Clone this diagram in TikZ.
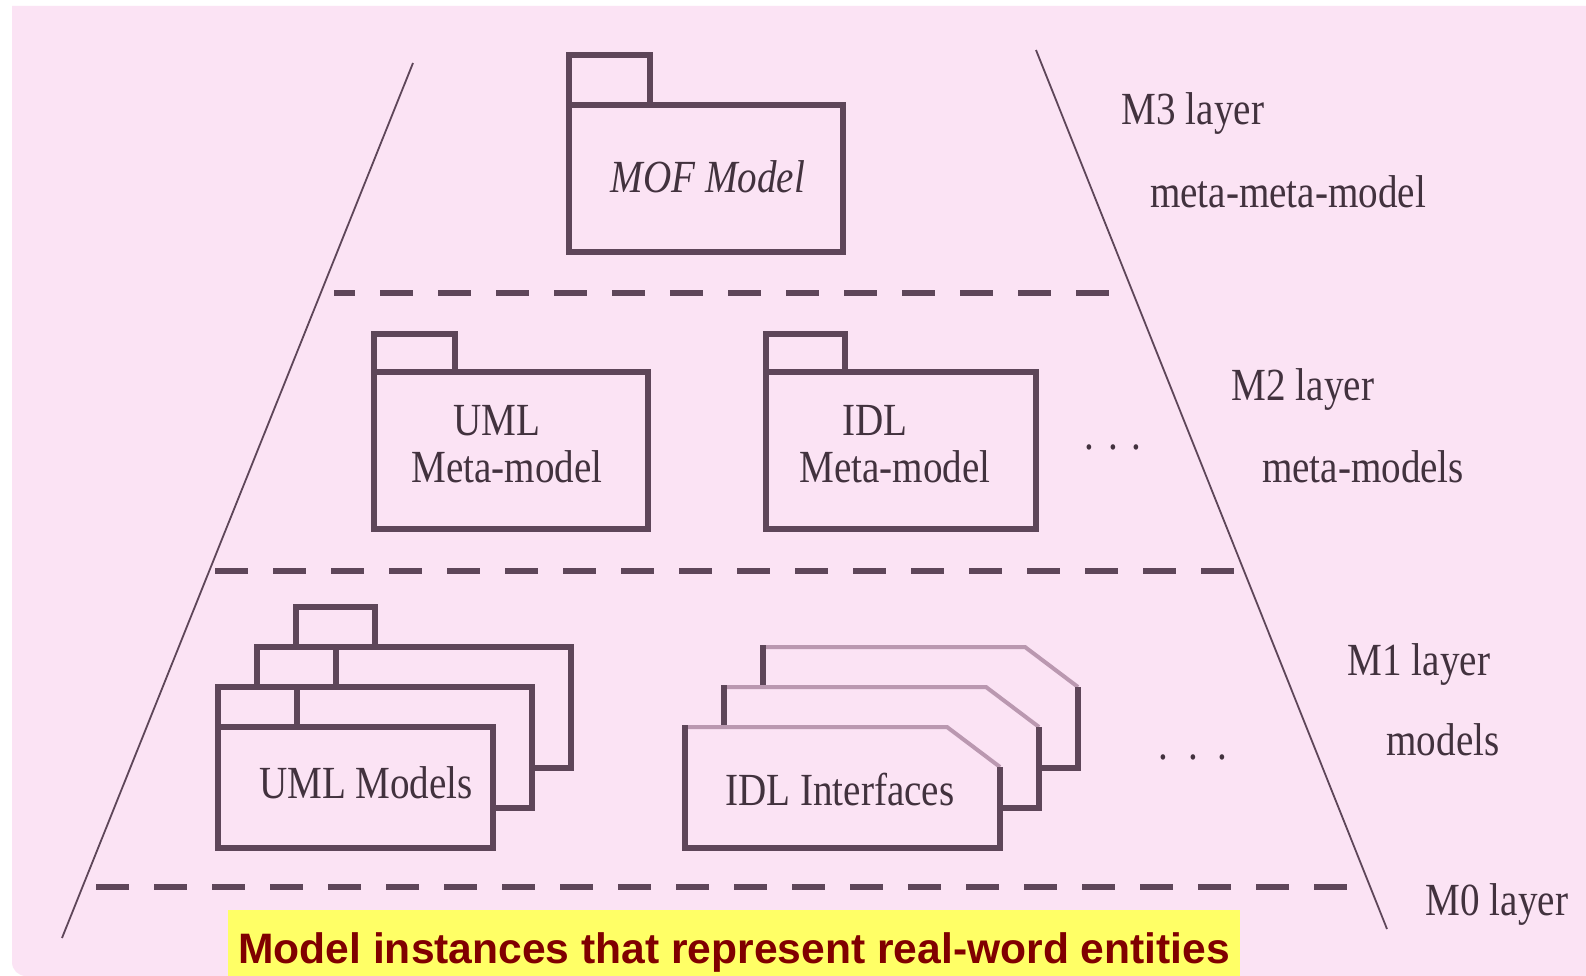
\documentclass[tikz,border=0pt]{standalone}
\usepackage{fontspec}
\newfontfamily\lblfont[FakeStretch=0.85]{Liberation Serif}
\newfontfamily\capfont{Liberation Sans}

\definecolor{bgpink}{RGB}{251,227,244}
\definecolor{plum}{RGB}{94,70,89}
\definecolor{plumlight}{RGB}{186,152,176}
\definecolor{ink}{RGB}{66,50,62}
\definecolor{capyellow}{RGB}{255,255,102}
\definecolor{capred}{RGB}{128,0,0}

\tikzset{
  pkg/.style={draw=plum, line width=5.5pt, fill=bgpink, line join=miter},
  pkgtop/.style={draw=plumlight, line width=4pt},
  layerline/.style={draw=plum, line width=1.8pt},
  separator/.style={draw=plum, line width=5.5pt, dash pattern=on 33pt off 25pt},
  lbl/.style={font=\lblfont\fontsize{46}{49}\selectfont, text=ink, inner sep=0pt, anchor=base},
  caption/.style={fill=capyellow, text=capred, inner sep=0pt,
    font=\capfont\bfseries\fontsize{42.6}{46}\selectfont,
    minimum width=1012pt, text height=53pt, text depth=13pt},
}

% UML package: left, top of body, body width, body height, tab width, tab height
\newcommand{\umlpackage}[6]{%
  \path[pkg] ({#1},{#2-#6}) rectangle ({#1+#5},{#2});
  \path[pkg] ({#1},{#2}) rectangle ({#1+#3},{#2+#4});
}
% Interface sheet with a cut top-right corner: left, top
\newcommand{\idlsheet}[2]{%
  \fill[bgpink] ({#1},{#2}) -- ({#1+262},{#2}) -- ({#1+315},{#2+40})
    -- ({#1+315},{#2+121}) -- ({#1},{#2+121}) -- cycle;
  \draw[pkgtop] ({#1},{#2}) -- ({#1+262},{#2}) -- ({#1+315},{#2+40});
  \draw[pkg, fill=none] ({#1+315},{#2+40}) -- ({#1+315},{#2+121})
    -- ({#1},{#2+121}) -- ({#1},{#2-2.5});
}

\begin{document}
\begin{tikzpicture}[x=1pt, y=-1pt]
  \useasboundingbox (0,0) rectangle (1586,976);
  \fill[white] (0,0) rectangle (1586,976);
  \fill[bgpink] (12,6) -- (1586,6) -- (1586,976) [rounded corners=14pt] -- (12,976)
    [sharp corners] -- cycle;

  % pyramid sides
  \draw[layerline] (413,63) -- (62,938);
  \draw[layerline] (1036,50) -- (1387,929);

  % layer separators
  \draw[separator, dash phase=12pt] (334,293) -- (1118,293);
  \draw[separator] (215,571) -- (1236,571);
  \draw[separator] (96,887) -- (1350,887);

  % M3: MOF model
  \umlpackage{569}{105}{274}{147}{81}{50}
  \node[lbl] (mof) at (708,193) {\itshape MOF Model};

  % M2: meta-models
  \umlpackage{374}{372}{274}{157}{81}{38}
  \node[lbl] (umlmeta1) at (497,435) {UML};
  \node[lbl] (umlmeta2) at (507,482) {Meta-model};
  \umlpackage{766}{372}{270}{157}{79}{38}
  \node[lbl] (idlmeta1) at (875,435) {IDL};
  \node[lbl] (idlmeta2) at (895,482) {Meta-model};
  \node[lbl] (moremeta) at (1113,449) {.\hspace{14pt}.\hspace{14pt}.};

  % M1: models
  \umlpackage{296}{647}{275}{121}{79}{40}
  \umlpackage{257}{687}{275}{121}{79}{40}
  \umlpackage{218}{727}{275}{121}{79}{40}
  \node[lbl] (umlmodels) at (366,798) {UML Models};

  \idlsheet{763}{647}
  \idlsheet{724}{687}
  \idlsheet{685}{727}
  \node[lbl] (idlif) at (840,805) {IDL Interfaces};
  \node[lbl] (moremodels) at (1193,759) {.\hspace{20pt}.\hspace{20pt}.};

  % layer names
  \node[lbl] (m3) at (1193,125) {M3 layer};
  \node[lbl] (m3d) at (1288,208) {meta-meta-model};
  \node[lbl] (m2) at (1303,400) {M2 layer};
  \node[lbl] (m2d) at (1363,482) {meta-models};
  \node[lbl] (m1) at (1419,675) {M1 layer};
  \node[lbl] (m1d) at (1443,755) {models};
  \node[lbl] (m0) at (1497,915) {M0 layer};

  % M0 caption
  \node[caption, anchor=north west] (m0d) at (228,910)
    {Model instances that represent real-word entities};
\end{tikzpicture}
\end{document}
